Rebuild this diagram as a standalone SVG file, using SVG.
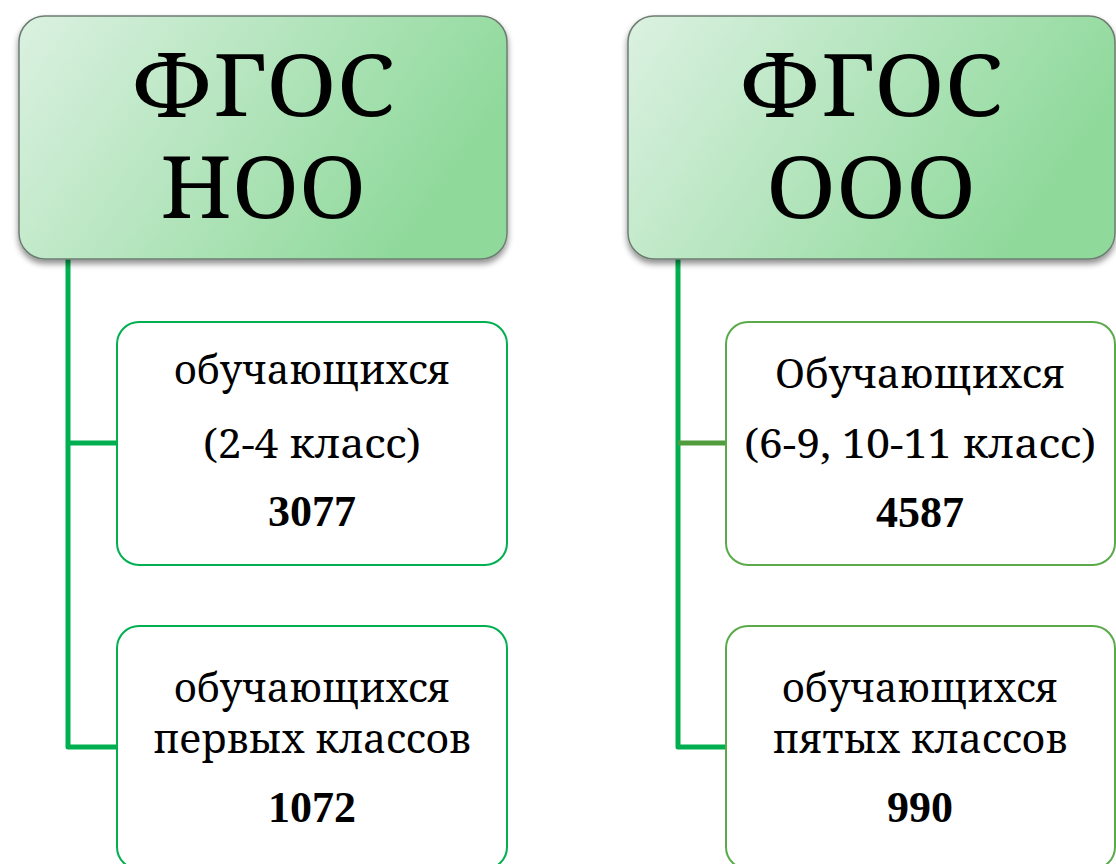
<svg xmlns="http://www.w3.org/2000/svg" width="1116" height="864" viewBox="0 0 1116 864">
<defs>
<linearGradient id="hg" x1="0" y1="0" x2="1" y2="0.35">
<stop offset="0" stop-color="#dbf1e1"/>
<stop offset="1" stop-color="#8fd99b"/>
</linearGradient>
<filter id="sh" x="-10%" y="-10%" width="120%" height="130%">
<feGaussianBlur in="SourceAlpha" stdDeviation="3"/>
<feOffset dx="0" dy="4" result="b"/>
<feComponentTransfer><feFuncA type="linear" slope="0.45"/></feComponentTransfer>
<feMerge><feMergeNode/><feMergeNode in="SourceGraphic"/></feMerge>
</filter>
</defs>
<style>
.head{fill:url(#hg);stroke:#6e7d72;stroke-width:1.5}
text{fill:#000;text-anchor:middle;font-family:'Noto Serif','DejaVu Serif',serif}
.ht{font-size:86px}
.cl{fill:#fff;stroke:#00b050;stroke-width:2}
.cr{fill:#fff;stroke:#5aaa4a;stroke-width:2}
.ct{font-size:40px}
.b{font-weight:bold;font-size:44px;font-family:'Liberation Serif','Noto Serif',serif}
.con{fill:none;stroke:#00b050;stroke-width:5;stroke-linejoin:round}
</style>
<g id="connectors">
<path class="con" d="M68 258 V747 H118"/>
<path class="con" d="M68 443 H118"/>
<path class="con" d="M678 258 V747 H727"/>
<path class="con" d="M678 443 H727" style="stroke:#519c3d"/>
</g>
<g id="fgos-noo">
<rect class="head" x="19" y="16" width="488" height="243" rx="26" filter="url(#sh)"/>
<text class="ht" x="263" y="116" textLength="264" lengthAdjust="spacingAndGlyphs">ФГОС</text>
<text class="ht" x="263" y="218" textLength="206" lengthAdjust="spacingAndGlyphs">НОО</text>
</g>
<g id="fgos-ooo">
<rect class="head" x="628" y="16" width="487" height="243" rx="26" filter="url(#sh)"/>
<text class="ht" x="871" y="116" textLength="264" lengthAdjust="spacingAndGlyphs">ФГОС</text>
<text class="ht" x="871" y="218" textLength="210" lengthAdjust="spacingAndGlyphs">ООО</text>
</g>
<g id="noo-2-4">
<rect class="cl" x="117" y="322" width="390" height="243" rx="22"/>
<text class="ct" x="312" y="384" textLength="276" lengthAdjust="spacingAndGlyphs">обучающихся</text>
<text class="ct" x="312" y="458" textLength="218" lengthAdjust="spacingAndGlyphs">(2-4 класс)</text>
<text class="b" x="312" y="526">3077</text>
</g>
<g id="noo-1">
<rect class="cl" x="117" y="626" width="390" height="243" rx="22"/>
<text class="ct" x="312" y="702" textLength="276" lengthAdjust="spacingAndGlyphs">обучающихся</text>
<text class="ct" x="312" y="753" textLength="318" lengthAdjust="spacingAndGlyphs">первых классов</text>
<text class="b" x="312" y="822">1072</text>
</g>
<g id="ooo-6-11">
<rect class="cr" x="726" y="322" width="389" height="243" rx="22"/>
<text class="ct" x="920" y="388" textLength="290" lengthAdjust="spacingAndGlyphs">Обучающихся</text>
<text class="ct" x="920" y="458" textLength="352" lengthAdjust="spacingAndGlyphs">(6-9, 10-11 класс)</text>
<text class="b" x="920" y="527">4587</text>
</g>
<g id="ooo-5">
<rect class="cr" x="726" y="626" width="389" height="243" rx="22"/>
<text class="ct" x="920" y="702" textLength="276" lengthAdjust="spacingAndGlyphs">обучающихся</text>
<text class="ct" x="920" y="753" textLength="295" lengthAdjust="spacingAndGlyphs">пятых классов</text>
<text class="b" x="920" y="822">990</text>
</g>
</svg>
